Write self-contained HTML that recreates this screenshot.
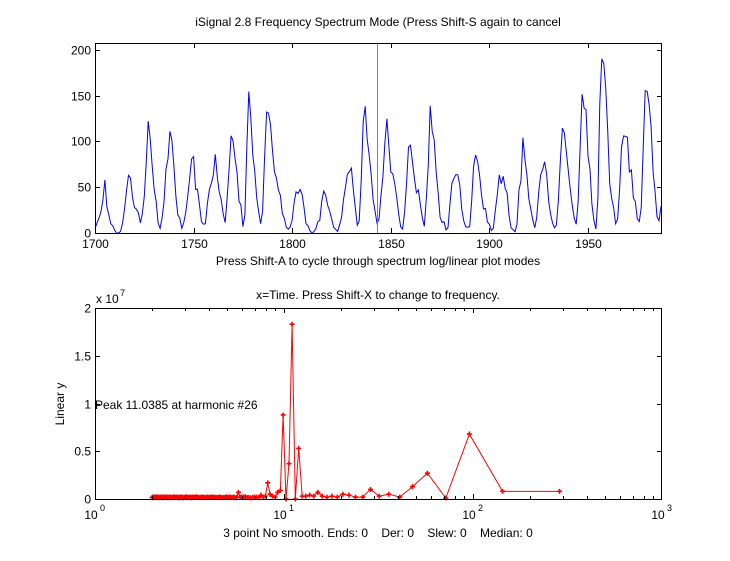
<!DOCTYPE html>
<html><head><meta charset="utf-8"><style>
html,body{margin:0;padding:0;background:#fff;}
svg{display:block;font-family:"Liberation Sans",Arial,sans-serif;}
</style></head><body>
<svg id="s" width="730" height="561" viewBox="0 0 730 561" xmlns="http://www.w3.org/2000/svg">
<rect width="730" height="561" fill="#fff"/>
<g font-size="12" fill="#000">
<text x="378" y="26" text-anchor="middle">iSignal 2.8 Frequency Spectrum Mode (Press Shift-S again to cancel</text>
<text x="378" y="265" text-anchor="middle">Press Shift-A to cycle through spectrum log/linear plot modes</text>
<text x="378" y="299" text-anchor="middle">x=Time. Press Shift-X to change to frequency.</text>
<text x="378" y="537" text-anchor="middle" xml:space="preserve">3 point No smooth. Ends: 0    Der: 0    Slew: 0    Median: 0</text>
<text x="95" y="409">Peak 11.0385 at harmonic #26</text>
<text transform="translate(64,404) rotate(-90)" text-anchor="middle">Linear y</text>
<text x="96" y="303">x 10</text><text x="120" y="296" font-size="9">7</text>
</g>
<g id="top"></g>
<g id="bot"></g>
</svg>
<script>
var ns="http://www.w3.org/2000/svg";
function el(p,t,a,txt){var e=document.createElementNS(ns,t);for(var k in a)e.setAttribute(k,a[k]);if(txt!==undefined)e.textContent=txt;p.appendChild(e);return e;}
var T=document.getElementById('top'),B=document.getElementById('bot');
var ss=[5,11,16,23,36,58,29,20,10,8,3,0,0,2,11,27,47,63,60,39,28,26,22,11,21,40,78,122,103,73,47,35,11,5,16,34,70,81,111,101,73,40,20,16,5,11,22,40,60,80.9,83.4,47.7,47.8,30.7,12.2,9.6,10.2,32.4,47.6,54,62.9,85.9,61.2,45.1,36.4,20.9,11.4,37.8,69.8,106.1,100.8,81.6,66.5,34.8,30.6,7,19.8,92.5,154.4,125.9,84.8,68.1,38.5,22.8,10.2,24.1,82.9,132,130.9,118.1,89.9,66.6,60,46.9,41,21.3,16,6.4,4.1,6.8,14.5,34,45,43.1,47.5,42.2,28.1,10.1,8.1,2.5,0,1.4,5,12.2,13.9,35.4,45.8,41.1,30.1,23.9,15.6,6.6,4,1.8,8.5,16.6,36.3,49.6,64.2,67,70.9,47.8,27.5,8.5,13.2,56.9,121.5,138.3,103.2,85.7,64.6,36.7,24.2,10.7,15,40.1,61.5,98.5,124.7,96.3,66.6,64.5,54.1,39,20.6,6.7,4.3,22.7,54.8,93.8,95.8,77.2,59.1,44,47,30.5,16.3,7.3,37.6,74,139,111.2,101.6,66.2,44.7,17,11.3,12.4,3.4,6,32.3,54.3,59.7,63.7,63.5,52.2,25.4,13.1,6.8,6.3,7.1,35.6,73,85.1,78,64,41.8,26.2,26.7,12.1,9.5,2.7,5,24.4,42,63.5,53.8,62,48.5,43.9,18.6,5.7,3.6,1.4,9.6,47.4,57.1,103.9,80.6,63.6,37.6,26.1,14.2,5.8,16.7,44.3,63.9,69,77.8,64.9,35.7,21.2,11.1,5.7,8.7,36.1,79.7,114.4,109.6,88.8,67.8,47.5,30.6,16.3,9.6,33.2,92.6,151.6,136.3,134.7,83.9,69.4,31.5,13.9,4.4,38,141.7,190.2,184.8,159,112.3,53.9,37.6,27.9,10.2,15.1,47,93.8,105.9,105.5,104.5,66.6,68.9,38,34.5,15.5,12.6,27.5,92.5,155.4,154.6,140.4,115.9,66.6,45.9,17.9,13.4,29.2];
var L=95,R=662,TT=43,TB=233,BT=308,BB=499;
// top plot
var d='';for(var i=0;i<ss.length;i++){var x=L+i*1.972,y=TB-ss[i]*0.916;d+=(i?'L':'M')+x.toFixed(1)+' '+y.toFixed(1);}
el(T,'path',{d:d,fill:'none',stroke:'#0000ff','stroke-width':1});
el(T,'line',{x1:377.5,y1:TT,x2:377.5,y2:TB,stroke:'#00dd00','stroke-width':1});
el(T,'rect',{x:L+.5,y:TT+.5,width:R-L-1,height:TB-TT,fill:'none',stroke:'#000','stroke-width':1});
for(var yr=1700;yr<=1950;yr+=50){var x=Math.round(L+(yr-1700)*1.972)+.5;el(T,'line',{x1:x,y1:TB,x2:x,y2:TB-5,stroke:'#000'});el(T,'line',{x1:x,y1:TT,x2:x,y2:TT+5,stroke:'#000'});el(T,'text',{x:x,y:TB+15,'text-anchor':'middle','font-size':12},yr);}
for(var v=0;v<=200;v+=50){var y=Math.round(TB-v*0.916)+.5;el(T,'line',{x1:L,y1:y,x2:L+5,y2:y,stroke:'#000'});el(T,'line',{x1:R-5,y1:y,x2:R,y2:y,stroke:'#000'});el(T,'text',{x:L-4,y:y+4,'text-anchor':'end','font-size':12},v);}
// bottom plot
var dec=(R-L)/3,ys=(BB-BT)/2;
var vals={1:.08,2:.08,3:.68,4:.01,5:.27,6:.13,7:.02,8:.05,9:.03,10:.1,11:.02,12:.02,13:.04,14:.05,15:.02,16:.03,17:.02,18:.03,19:.07,20:.03,21:.04,22:.03,23:.03,24:.53,25:.0,26:1.83,27:.37,28:0,29:.88,30:.09,31:.07,32:.02,33:.03,34:.05,35:.17,36:.03,37:.02,38:.04,50:.07};
var pts=[];for(var k=1;k<=143;k++){var v=vals[k];if(v===undefined){v=0.012+0.012*Math.abs(Math.sin(k*12.9898)*1.7%1);}var p=287/k;var x=L+Math.log10(p)*dec,y=BB-v*ys*1;pts.push([x,y]);}
var d2='';pts.forEach(function(p,i){d2+=(i?'L':'M')+p[0].toFixed(1)+' '+p[1].toFixed(1);});
el(B,'path',{d:d2,fill:'none',stroke:'#ff0000','stroke-width':1});
pts.forEach(function(p){el(B,'path',{d:'M'+(p[0]-2.5)+' '+p[1]+'h5M'+p[0]+' '+(p[1]-2.5)+'v5',stroke:'#ff0000','stroke-width':1.6});});
el(B,'rect',{x:L+.5,y:BT+.5,width:R-L-1,height:BB-BT,fill:'none',stroke:'#000','stroke-width':1});
for(var e=0;e<3;e++){for(var m=1;m<=9;m++){var x=Math.round(L+(e+Math.log10(m))*dec)+.5;var len=m==1?5:3;el(B,'line',{x1:x,y1:BB,x2:x,y2:BB-len,stroke:'#000'});el(B,'line',{x1:x,y1:BT,x2:x,y2:BT+len,stroke:'#000'});}}
for(var e=0;e<=3;e++){var x=L+e*dec;var t=el(B,'text',{x:x-4,y:BB+20,'text-anchor':'middle','font-size':12},'10');el(B,'text',{x:x+5,y:BB+12,'font-size':9},e);}
var yl=['0','0.5','1','1.5','2'];for(var i=0;i<5;i++){var y=Math.round(BB-i*ys/2)+.5;el(B,'line',{x1:L,y1:y,x2:L+5,y2:y,stroke:'#000'});el(B,'line',{x1:R-5,y1:y,x2:R,y2:y,stroke:'#000'});el(B,'text',{x:L-4,y:y+4,'text-anchor':'end','font-size':12},yl[i]);}
</script>
</body></html>
